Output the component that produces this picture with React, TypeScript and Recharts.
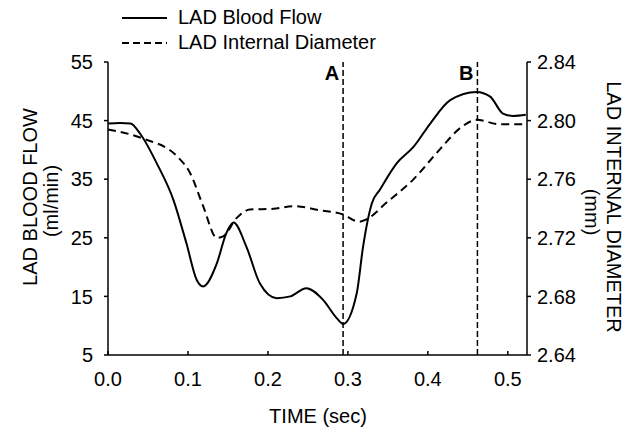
import { LineChart, Line, XAxis, YAxis, ReferenceLine, Label } from "recharts";

const flowTime = [
  0, 0.015, 0.028, 0.04, 0.061, 0.082, 0.098, 0.111, 0.119, 0.136, 0.148, 0.157,
  0.173, 0.19, 0.211, 0.228, 0.248, 0.269, 0.286, 0.294, 0.311, 0.319, 0.33, 0.34,
  0.361, 0.382, 0.403, 0.428, 0.461, 0.478, 0.494, 0.507, 0.5225,
];
const flowValues = [
  44.5, 44.6, 44.5, 42.8, 37.7, 31.4, 24.1, 17.8, 16.7, 20.6, 25.8, 27.6,
  23.5, 17.2, 14.7, 15.0, 16.4, 14.4, 11.3, 10.3, 15.5, 23.5, 30.9, 33.2,
  37.7, 40.5, 44.5, 48.5, 49.9, 49.1, 46.2, 45.8, 46.0,
];

const diamTime = [
  0, 0.044, 0.086, 0.1025, 0.119, 0.136, 0.144, 0.161, 0.1775, 0.207, 0.232,
  0.265, 0.294, 0.314, 0.323, 0.348, 0.382, 0.415, 0.444, 0.461, 0.49, 0.5225,
];
const diamValues = [
  2.794, 2.7877, 2.7758, 2.7644, 2.7416, 2.72, 2.721, 2.7336, 2.7393, 2.7398, 2.7416,
  2.7388, 2.7359, 2.731, 2.7325, 2.7439, 2.7599, 2.7804, 2.7964, 2.8005, 2.7975, 2.7975,
];

const timeTicks = [0, 0.1, 0.2, 0.3, 0.4, 0.5];
const flowTicks = [5, 15, 25, 35, 45, 55];
const diamTicks = [2.64, 2.68, 2.72, 2.76, 2.8, 2.84];

const markers = [
  { t: 0.294, name: "A" },
  { t: 0.462, name: "B" },
];

const flowData = flowTime.map((t, i) => ({ t, flow: flowValues[i] }));
const diamData = diamTime.map((t, i) => ({ t, diam: diamValues[i] }));

const font = "'Liberation Sans', Arial, sans-serif";
const tickStyle = { fontSize: 20, fill: "#000", fontFamily: font };

// legend sits above the plot, outside the chart so it doesn't push the plot down
function LegendBox() {
  const row = (dash: string | undefined, text: string) => (
    <div style={{ display: "flex", alignItems: "center", height: 25 }}>
      <svg width={56} height={10}>
        <line x1={0} y1={5} x2={45} y2={5} stroke="#000" strokeWidth={2} strokeDasharray={dash} />
      </svg>
      <span style={{ fontSize: 20, fontFamily: font, color: "#000" }}>{text}</span>
    </div>
  );
  return (
    <div style={{ position: "absolute", left: 122, top: 5, zIndex: 1 }}>
      {row(undefined, "LAD Blood Flow")}
      {row("7 4", "LAD Internal Diameter")}
    </div>
  );
}

export default function App() {
  return (
    <div style={{ position: "absolute", left: 0, top: 0, width: 625, height: 427, background: "#fff" }}>
      <LegendBox />
      <LineChart
        width={625}
        height={427}
        margin={{ top: 62, right: 38, bottom: 42, left: 48 }}
      >
        <XAxis
          dataKey="t"
          type="number"
          domain={[0, 0.524]}
          ticks={timeTicks}
          tickFormatter={(v) => v.toFixed(1)}
          allowDuplicatedCategory={false}
          stroke="#000"
          strokeWidth={1.5}
          tick={tickStyle}
          tickSize={-4}
          tickMargin={21}
          height={30}
        >
          <Label
            content={() => (
              <text x={318} y={416} textAnchor="middle" dominantBaseline="central" style={tickStyle}>
                TIME (sec)
              </text>
            )}
          />
        </XAxis>
        <YAxis
          yAxisId="left"
          domain={[5, 55]}
          ticks={flowTicks}
          stroke="#000"
          strokeWidth={1.5}
          tick={tickStyle}
          tickSize={4}
          tickMargin={11}
          width={60}
        >
          <Label
            content={() => (
              <g style={tickStyle}>
                <text x={30} y={197} transform="rotate(-90 30 197)" textAnchor="middle" dominantBaseline="central">
                  LAD BLOOD FLOW
                </text>
                <text x={51} y={201} transform="rotate(-90 51 201)" textAnchor="middle" dominantBaseline="central">
                  (ml/min)
                </text>
              </g>
            )}
          />
        </YAxis>
        <YAxis
          yAxisId="right"
          orientation="right"
          domain={[2.64, 2.84]}
          ticks={diamTicks}
          tickFormatter={(v) => v.toFixed(2)}
          stroke="#000"
          strokeWidth={1.5}
          tick={tickStyle}
          tickSize={4}
          tickMargin={6}
          width={60}
        >
          <Label
            content={() => (
              <g style={tickStyle}>
                <text x={614} y={207} transform="rotate(90 614 207)" textAnchor="middle" dominantBaseline="central">
                  LAD INTERNAL DIAMETER
                </text>
                <text x={592} y={212} transform="rotate(90 592 212)" textAnchor="middle" dominantBaseline="central">
                  (mm)
                </text>
              </g>
            )}
          />
        </YAxis>
        {markers.map((m) => (
          <ReferenceLine
            key={m.name}
            x={m.t}
            yAxisId="left"
            stroke="#000"
            strokeWidth={1.5}
            strokeDasharray="6 3"
            label={{
              value: m.name,
              position: "insideTopRight",
              offset: 4,
              style: { ...tickStyle, fontWeight: "bold" },
            }}
          />
        ))}
        <Line
          yAxisId="left"
          data={flowData}
          dataKey="flow"
          type="monotone"
          stroke="#000"
          strokeWidth={2}
          dot={false}
          isAnimationActive={false}
        />
        <Line
          yAxisId="right"
          data={diamData}
          dataKey="diam"
          type="monotone"
          stroke="#000"
          strokeWidth={2}
          strokeDasharray="8 5"
          dot={false}
          isAnimationActive={false}
        />
      </LineChart>
    </div>
  );
}
